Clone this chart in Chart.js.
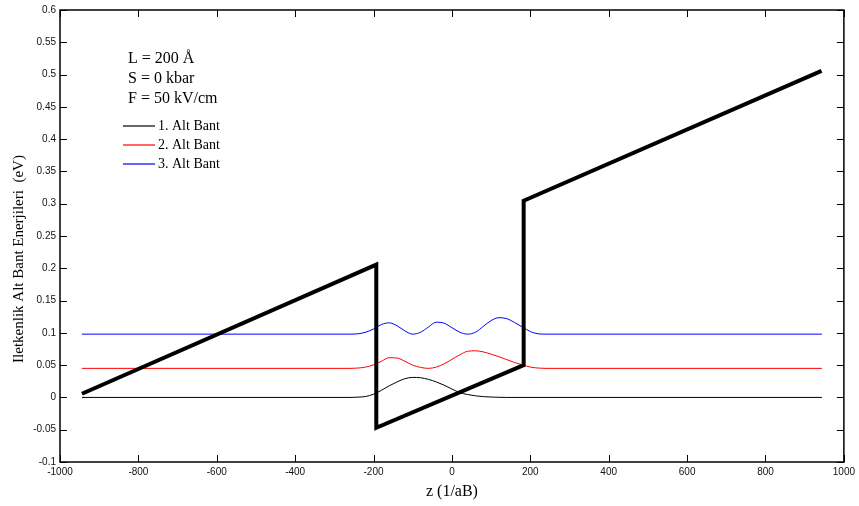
<!DOCTYPE html>
<html>
<head>
<meta charset="utf-8">
<script src="https://cdn.jsdelivr.net/npm/chart.js@4/dist/chart.umd.min.js"></script>
<style>
  html, body { margin: 0; padding: 0; background: #fff; }
  canvas { display: block; }
</style>
</head>
<body>
<canvas id="grafik" width="859" height="506"></canvas>
<script>
// eksen tikleri
let xTicks = [-1000, -800, -600, -400, -200, 0, 200, 400, 600, 800, 1000];
let yTicks = [-0.1, -0.05, 0, 0.05, 0.1, 0.15, 0.2, 0.25, 0.3, 0.35, 0.4, 0.45, 0.5, 0.55, 0.6];

// iletkenlik bandi potansiyeli
let potZ = [-944, -193, -193, 183, 183, 943];
let potE = [0.0057, 0.2057, -0.047, 0.050, 0.3046, 0.5057];

// 1. alt bant
let band1Z = [-944, -260, -240, -220, -200, -180, -160, -140, -120, -100, -80, -60, -40, -20, 0, 20, 40, 60, 80, 100, 120, 140, 944];
let band1E = [0, 0, 0.0004, 0.0015, 0.005, 0.011, 0.018, 0.024, 0.029, 0.031, 0.0305, 0.028, 0.024, 0.019, 0.013, 0.0075, 0.0045, 0.0025, 0.0012, 0.0006, 0.0002, 0, 0];

// 2. alt bant
let band2Z = [-944, -260, -240, -220, -200, -180, -160, -140, -120, -100, -80, -60, -40, -20, 0, 20, 40, 60, 80, 100, 120, 140, 160, 180, 200, 220, 240, 944];
let band2E = [0.045, 0.045, 0.0455, 0.047, 0.0505, 0.056, 0.0615, 0.061, 0.056, 0.050, 0.0465, 0.045, 0.047, 0.052, 0.059, 0.066, 0.0715, 0.0722, 0.0705, 0.067, 0.063, 0.0585, 0.054, 0.0505, 0.047, 0.0455, 0.045, 0.045];

// 3. alt bant
let band3Z = [-944, -260, -240, -220, -200, -180, -160, -140, -120, -100, -80, -60, -40, -20, 0, 20, 40, 60, 80, 100, 120, 140, 160, 180, 200, 220, 240, 944];
let band3E = [0.098, 0.098, 0.0985, 0.101, 0.106, 0.113, 0.1155, 0.111, 0.103, 0.098, 0.101, 0.109, 0.1165, 0.115, 0.108, 0.101, 0.098, 0.101, 0.110, 0.119, 0.1235, 0.122, 0.116, 0.109, 0.102, 0.0985, 0.098, 0.098];

let legendLabels = ['1. Alt Bant', '2. Alt Bant', '3. Alt Bant'];
let legendColors = ['#000000', '#ff0000', '#0000ff'];
let infoLines = ['L = 200 Å', 'S = 0 kbar', 'F = 50 kV/cm'];
let yTitle = 'Iletkenlik Alt Bant Enerjileri  (eV)';

function toPoints(zs, es) {
  return zs.map((z, i) => ({ x: z, y: es[i] }));
}

// kutu, iceri tikler, yazilar
let matlabBox = {
  id: 'matlabBox',
  afterDraw(chart) {
    let ctx = chart.ctx;
    let a = chart.chartArea;
    let sx = chart.scales.x;
    let sy = chart.scales.y;
    ctx.save();
    ctx.strokeStyle = '#000';
    ctx.lineWidth = 1;
    ctx.beginPath();
    xTicks.forEach(v => {
      let px = Math.round(sx.getPixelForValue(v)) + 0.5;
      ctx.moveTo(px, a.bottom); ctx.lineTo(px, a.bottom - 7);
      ctx.moveTo(px, a.top); ctx.lineTo(px, a.top + 7);
    });
    yTicks.forEach(v => {
      let py = Math.round(sy.getPixelForValue(v)) + 0.5;
      ctx.moveTo(a.left, py); ctx.lineTo(a.left + 7, py);
      ctx.moveTo(a.right, py); ctx.lineTo(a.right - 7, py);
    });
    ctx.stroke();
    ctx.lineWidth = 1.5;
    ctx.strokeRect(a.left, a.top, a.right - a.left, a.bottom - a.top);

    // y ekseni basligi
    ctx.fillStyle = '#000';
    ctx.save();
    ctx.translate(19, 259);
    ctx.rotate(-Math.PI / 2);
    ctx.textAlign = 'center';
    ctx.textBaseline = 'middle';
    ctx.font = '15px "Liberation Serif", "Times New Roman", serif';
    ctx.fillText(yTitle, 0, 0);
    ctx.restore();

    ctx.textBaseline = 'middle';
    ctx.textAlign = 'left';
    ctx.font = '16px "Liberation Serif", "Times New Roman", serif';
    infoLines.forEach((t, i) => ctx.fillText(t, 128, 59 + i * 20));

    ctx.font = '14px "Liberation Serif", "Times New Roman", serif';
    for (let i = 0; i < legendLabels.length; i++) {
      let y = 126 + i * 19;
      ctx.beginPath();
      ctx.strokeStyle = legendColors[i];
      ctx.lineWidth = 1.2;
      ctx.moveTo(123, y);
      ctx.lineTo(155, y);
      ctx.stroke();
      ctx.fillStyle = '#000';
      ctx.fillText(legendLabels[i], 158, y);
    }
    ctx.restore();
  }
};

let tickFont = { family: '"Liberation Sans", Arial, sans-serif', size: 10 };

let ctx = document.getElementById('grafik');
let grafik = new Chart(ctx, {
  type: 'line',
  data: {
    datasets: [{
      label: 'Potansiyel',
      data: toPoints(potZ, potE),
      borderColor: '#000',
      borderWidth: 4,
      borderJoinStyle: 'miter',
      tension: 0,
      pointRadius: 0
    }, {
      label: legendLabels[0],
      data: toPoints(band1Z, band1E),
      borderColor: legendColors[0],
      borderWidth: 1,
      cubicInterpolationMode: 'monotone',
      pointRadius: 0
    }, {
      label: legendLabels[1],
      data: toPoints(band2Z, band2E),
      borderColor: legendColors[1],
      borderWidth: 1,
      cubicInterpolationMode: 'monotone',
      pointRadius: 0
    }, {
      label: legendLabels[2],
      data: toPoints(band3Z, band3E),
      borderColor: legendColors[2],
      borderWidth: 1,
      cubicInterpolationMode: 'monotone',
      pointRadius: 0
    }]
  },
  options: {
    responsive: false,
    animation: false,
    devicePixelRatio: 1,
    layout: { padding: { top: 7, right: 14, left: 0, bottom: 0 } },
    plugins: {
      legend: { display: false },
      tooltip: { enabled: false }
    },
    scales: {
      x: {
        type: 'linear',
        min: -1000,
        max: 1000,
        afterBuildTicks: s => { s.ticks = xTicks.map(v => ({ value: v })); },
        afterFit: s => { s.height = 44; },
        grid: { display: false, drawTicks: false },
        border: { display: false },
        ticks: { font: tickFont, color: '#111', padding: 4, maxRotation: 0, autoSkip: false,
                 callback: v => String(v) },
        title: { display: true, text: 'z (1/aB)', color: '#000',
                 font: { family: '"Liberation Serif", "Times New Roman", serif', size: 16 },
                 padding: { top: 0, bottom: 5 } }
      },
      y: {
        type: 'linear',
        min: -0.1,
        max: 0.6,
        afterBuildTicks: s => { s.ticks = yTicks.map(v => ({ value: v })); },
        afterFit: s => { s.width = 60; },
        grid: { display: false, drawTicks: false },
        border: { display: false },
        ticks: { font: tickFont, color: '#111', padding: 4, autoSkip: false,
                 callback: v => String(parseFloat(Number(v).toFixed(2))) }
      }
    }
  },
  plugins: [matlabBox]
});
</script>
</body>
</html>
